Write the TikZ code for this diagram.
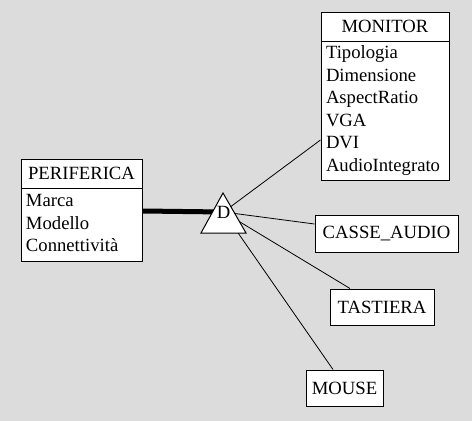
\documentclass[tikz,border=0pt]{standalone}
\usepackage{fontspec}
\setmainfont{Liberation Serif}
\usepackage{tikz}
\definecolor{bggray}{RGB}{220,220,220}
\tikzset{
	headstyle/.style={rectangle,draw=black,fill=white,line width=1pt,inner sep=0pt,minimum height=29pt},
	attrstyle/.style={rectangle,draw=black,fill=white,line width=1pt,inner xsep=5pt,inner ysep=0pt,align=left},
	boxstyle/.style={rectangle,draw=black,fill=white,line width=1pt,inner sep=0pt,minimum height=36pt},
	linkstyle/.style={draw=black,line width=0.8pt}
}

\begin{document}
\begin{tikzpicture}[x=1pt,y=-1pt,font=\fontsize{18.67}{22.5}\selectfont]
		\fill[bggray] (0,0) rectangle (472,421);
		\useasboundingbox (0,0) rectangle (472,421);
		\node[headstyle,minimum width=121pt] (per) at (81.5,173.5) {PERIFERICA};
		\node[attrstyle,text width=111pt,minimum height=73pt] (perattr) at (81.5,224.5) {\begin{tabular}{@{}l@{}}Marca\\Modello\\Connettività\end{tabular}};
		\node[headstyle,minimum width=128pt] (mon) at (385,26.5) {MONITOR};
		\node[attrstyle,text width=118pt,minimum height=139pt] (monattr) at (385,110.5) {\begin{tabular}{@{}l@{}}Tipologia\\Dimensione\\AspectRatio\\VGA\\DVI\\AudioIntegrato\end{tabular}};
		\node[boxstyle,minimum width=143pt,minimum height=37pt] (casse) at (386.5,233.5) {CASSE\_AUDIO};
		\node[boxstyle,minimum width=104pt] (tast) at (382,307) {TASTIERA};
		\node[boxstyle,minimum width=77pt] (mouse) at (344.5,388) {MOUSE};
		\coordinate (gen) at (223.5,212);
		\draw[line width=5pt] ([yshift=13.5pt]perattr.east) -- (gen);
		\draw[linkstyle] (gen) -- ([yshift=-29.5pt]monattr.west);
		\draw[linkstyle] (gen) -- ([yshift=9.5pt]casse.west);
		\draw[linkstyle] (gen) -- ([xshift=-32pt]tast.north);
		\draw[linkstyle] (gen) -- ([xshift=-11.5pt]mouse.north);
		\draw[fill=white,line width=1pt] (223,193) -- (246,233) -- (201,233) -- cycle;
		\node (genlabel) at (gen) {D};
		\end{tikzpicture}
\end{document}
